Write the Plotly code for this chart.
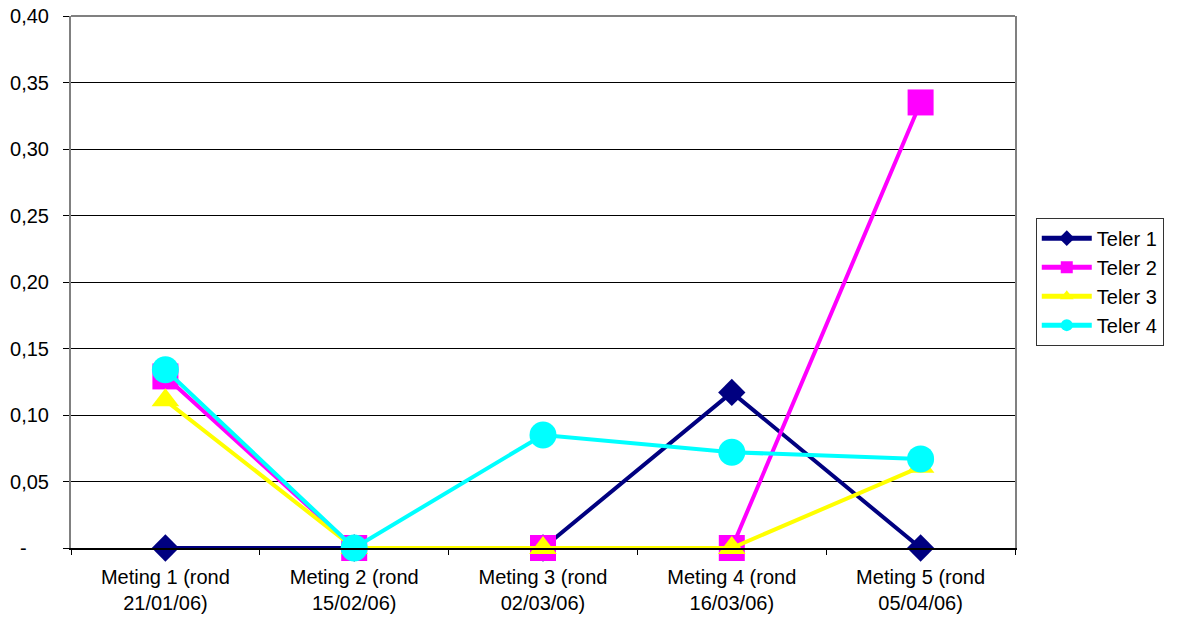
import plotly.graph_objects as go

# Measurement rounds (x categories)
metingen = [
    "Meting 1 (rond<br>21/01/06)",
    "Meting 2 (rond<br>15/02/06)",
    "Meting 3 (rond<br>02/03/06)",
    "Meting 4 (rond<br>16/03/06)",
    "Meting 5 (rond<br>05/04/06)",
]

# Values per counter
teler_1 = [0.0, 0.0, 0.0, 0.117, 0.0]
teler_2 = [0.129, 0.0, 0.0, 0.0, 0.335]
teler_3 = [0.111, 0.0, 0.0, 0.0, 0.061]
teler_4 = [0.134, 0.0, 0.085, 0.072, 0.067]

# Y-axis ticks and labels (Dutch decimal comma, zero shown as a dash)
y_ticks = [0.0, 0.05, 0.10, 0.15, 0.20, 0.25, 0.30, 0.35, 0.40]
y_labels = ["-\u00a0\u00a0\u00a0\u00a0", "0,05", "0,10", "0,15", "0,20",
            "0,25", "0,30", "0,35", "0,40"]

series = [
    ("Teler 1", teler_1, "#000080", "diamond", 21),
    ("Teler 2", teler_2, "#FF00FF", "square", 26),
    ("Teler 3", teler_3, "#FFFF00", "triangle-up", 24),
    ("Teler 4", teler_4, "#00FFFF", "circle", 27),
]

FONT = "Liberation Sans, Arial, sans-serif"

fig = go.Figure()
for name, vals, color, symbol, size in series:
    fig.add_trace(go.Scatter(
        x=metingen, y=vals, name=name, mode="lines+markers",
        line=dict(color=color, width=4),
        marker=dict(symbol=symbol, size=size, color=color,
                    line=dict(width=0)),
        cliponaxis=False,
    ))

fig.update_layout(
    width=1178, height=618,
    margin=dict(l=71, r=163, t=16, b=70, autoexpand=False),
    paper_bgcolor="white", plot_bgcolor="white",
    font=dict(family=FONT, size=20, color="black"),
    separators=",.",
    showlegend=True,
    legend=dict(
        x=1.022, y=0.621, xanchor="left", yanchor="top",
        bordercolor="#333333", borderwidth=1, bgcolor="white",
        font=dict(family=FONT, size=20, color="black"),
        tracegroupgap=2, itemsizing="constant", itemwidth=50,
    ),
    xaxis=dict(
        type="category", tickson="boundaries",
        ticks="outside", ticklen=5, tickcolor="black", tickwidth=1,
        showline=True, linecolor="black", linewidth=2,
        showgrid=False, zeroline=False, automargin=False,
        tickfont=dict(family=FONT, size=20, color="black"),
        ticklabelstandoff=10,
        range=[-0.5, 4.5],
    ),
    yaxis=dict(
        range=[0, 0.40], tickvals=y_ticks, ticktext=y_labels,
        ticks="outside", ticklen=6, tickcolor="black", tickwidth=1,
        showline=True, linecolor="#808080", linewidth=2, mirror=True,
        showgrid=True, gridcolor="black", gridwidth=1,
        zeroline=False, automargin=False,
        tickfont=dict(family=FONT, size=20, color="black"),
        ticklabelstandoff=10,
    ),
)

# Grey top edge of the plot area
fig.add_shape(type="line", xref="paper", yref="paper",
              x0=0, x1=1, y0=1, y1=1,
              line=dict(color="#808080", width=2))

fig.write_html("out.html")
